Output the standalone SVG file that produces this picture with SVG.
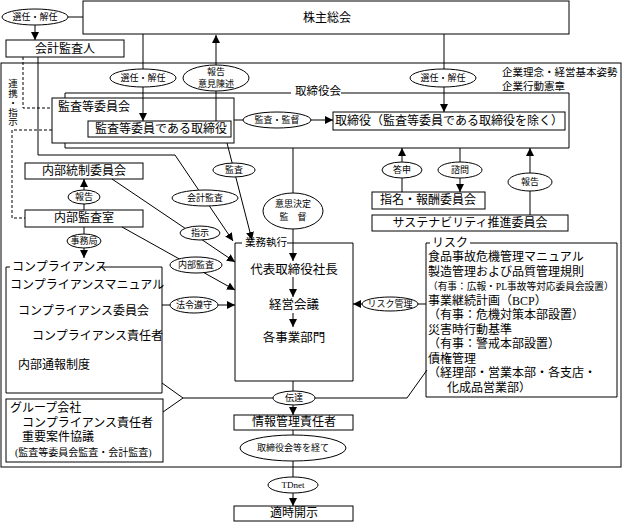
<svg xmlns="http://www.w3.org/2000/svg" width="623" height="522" viewBox="0 0 623 522">
<defs>
<style>
.b{fill:none;stroke:#000;stroke-width:1}
.ln{fill:none;stroke:#000;stroke-width:1}
.ar{marker-end:url(#ah)}
.ds{stroke-dasharray:3,2}
.el{fill:#fff;stroke:#000;stroke-width:1}
text{font-family:"Liberation Serif","Noto Sans CJK JP",serif;fill:#000;dominant-baseline:central}
.m{font-size:12px}
.s{font-size:9px}
.c{text-anchor:middle}
</style>
<marker id="ah" viewBox="0 0 8 8" refX="8" refY="4" markerWidth="8" markerHeight="8" markerUnits="userSpaceOnUse" orient="auto"><path d="M0,0L8,4L0,8z" fill="#000"/></marker>
</defs>
<rect width="623" height="522" fill="#fff"/>

<g id="frame">
<rect class="b" x="1" y="63" width="620" height="404"/>
<text x="502" y="72" style="font-size:10.5px">企業理念・経営基本姿勢</text>
<text x="502" y="86" style="font-size:10.5px">企業行動憲章</text>
</g>

<g id="board">
<path class="b" d="M65,98V93H291M341,93H569V148H65V143"/>
<text x="295" y="91" style="font-size:11.5px">取締役会</text>
</g>

<g id="connectors">
<path class="ln" d="M68,17H83"/>
<path class="ln ar" d="M35,25V40"/>
<path class="ln ar" d="M143,34V121"/>
<path class="ln ar" d="M216,121V35"/>
<path class="ln ar" d="M444,34V112"/>
<path class="ln ar" d="M234,120H333"/>
<path class="ln ar" d="M402,192V148"/>
<path class="ln ar" d="M460,148V192"/>
<path class="ln ar" d="M530,215V148"/>
<path class="ln ar" d="M84,210V179"/>
<path class="ln ar" d="M84,227V258"/>
<path class="ln ds" d="M23,57V108H52"/>
<path class="ln ds" d="M52,130H12V218H25"/>
<path class="ln ar" d="M38,57V155H175L233,241"/>
<path class="ln ar" d="M227,143L252,240"/>
<path class="ln ar" d="M112,179L235,262"/>
<path class="ln ar" d="M122,227L235,290"/>
<path class="ln ar" d="M162,305H235"/>
<path class="ln ar" d="M293,148V261"/>
<path class="ln ar" d="M293,277V297"/>
<path class="ln ar" d="M293,313V327"/>
<path class="ln ar" d="M426,304H353"/>
<path class="ln" d="M162,383L183,398L163,412M183,398H407L427,370"/>
<path class="ln ar" d="M293,381V415"/>
<path class="ln ar" d="M293,430V506"/>
</g>

<g id="n-shareholders">
<rect class="b" x="83" y="1" width="486" height="33"/>
<text class="m c" x="327" y="18">株主総会</text>
</g>
<g id="n-auditor">
<rect class="b" x="6" y="40" width="118" height="17"/>
<text class="m c" x="65" y="49">会計監査人</text>
</g>
<g id="n-audit-committee">
<rect class="b" x="52" y="98" width="182" height="45"/>
<text class="m" x="58" y="107">監査等委員会</text>
</g>
<g id="n-audit-director">
<rect class="b" x="88" y="121" width="143" height="16"/>
<text class="m c" x="161" y="129">監査等委員である取締役</text>
</g>
<g id="n-directors">
<rect class="b" x="333" y="112" width="232" height="18"/>
<text class="m c" x="449" y="121">取締役（監査等委員である取締役を除く）</text>
</g>
<g id="n-nomination">
<rect class="b" x="372" y="192" width="113" height="17"/>
<text class="m c" x="428" y="200">指名・報酬委員会</text>
</g>
<g id="n-sustainability">
<rect class="b" x="372" y="215" width="196" height="16"/>
<text class="m c" x="470" y="223">サステナビリティ推進委員会</text>
</g>
<g id="n-internal-control">
<rect class="b" x="25" y="163" width="118" height="16"/>
<text class="m c" x="84" y="171">内部統制委員会</text>
</g>
<g id="n-internal-audit">
<rect class="b" x="25" y="210" width="118" height="17"/>
<text class="m c" x="84" y="218">内部監査室</text>
</g>
<g id="n-compliance">
<path class="b" d="M10,267H6V393H162V267H99"/>
<text class="m" x="12" y="267">コンプライアンス</text>
<text class="m" x="10" y="285">コンプライアンスマニュアル</text>
<text class="m" x="18" y="311">コンプライアンス委員会</text>
<text class="m" x="32" y="336">コンプライアンス責任者</text>
<text class="m" x="18" y="365">内部通報制度</text>
</g>
<g id="n-group">
<rect class="b" x="6" y="399" width="157" height="63"/>
<text class="m" x="10" y="408">グループ会社</text>
<text class="m" x="22" y="423">コンプライアンス責任者</text>
<text class="m" x="22" y="437">重要案件協議</text>
<text x="15" y="452" style="font-size:10px">(監査等委員会監査・会計監査)</text>
</g>
<g id="n-execution">
<path class="b" d="M242,243H235V381H353V243H287"/>
<text x="245" y="242" style="font-size:10.5px">業務執行</text>
<text class="c" x="294" y="270" style="font-size:12.5px">代表取締役社長</text>
<text class="c" x="294" y="305" style="font-size:12.5px">経営会議</text>
<text class="c" x="294" y="338" style="font-size:12.5px">各事業部門</text>
</g>
<g id="n-risk">
<path class="b" d="M430,243H426V397H617V243H470"/>
<text class="m" x="432" y="243">リスク</text>
<text class="m" x="428" y="257">食品事故危機管理マニュアル</text>
<text class="m" x="428" y="271.5">製造管理および品質管理規則</text>
<text x="428" y="286" style="font-size:9.7px">（有事：広報・PL事故等対応委員会設置）</text>
<text class="m" x="428" y="300.5">事業継続計画（BCP）</text>
<text class="m" x="428" y="315">（有事：危機対策本部設置）</text>
<text class="m" x="428" y="329.5">災害時行動基準</text>
<text class="m" x="428" y="344">（有事：警戒本部設置）</text>
<text class="m" x="428" y="358.5">債権管理</text>
<text class="m" x="428" y="373">（経理部・営業本部・各支店・</text>
<text class="m" x="447" y="387.5">化成品営業部）</text>
</g>
<g id="n-info">
<rect class="b" x="234" y="415" width="119" height="15"/>
<text class="m c" x="294" y="422">情報管理責任者</text>
</g>
<g id="n-disclosure">
<rect class="b" x="234" y="506" width="119" height="15"/>
<text class="m c" x="294" y="513">適時開示</text>
</g>

<g id="labels">
<text class="s" x="12" y="79" style="writing-mode:vertical-rl;font-size:9.5px">連携・指示</text>
<ellipse class="el" cx="35" cy="17" rx="33" ry="8"/><text class="s c" x="35" y="17">選任・解任</text>
<ellipse class="el" cx="143" cy="78" rx="33" ry="9"/><text class="s c" x="143" y="78">選任・解任</text>
<ellipse class="el" cx="216" cy="78" rx="33" ry="13"/><text class="s c" x="216" y="72">報告</text><text class="s c" x="216" y="84">意見陳述</text>
<ellipse class="el" cx="443" cy="78" rx="33" ry="9"/><text class="s c" x="443" y="78">選任・解任</text>
<ellipse class="el" cx="277" cy="120" rx="34" ry="8"/><text class="s c" x="277" y="120">監査・監督</text>
<ellipse class="el" cx="402" cy="170" rx="20" ry="8"/><text class="s c" x="402" y="170">答申</text>
<ellipse class="el" cx="460" cy="170" rx="22" ry="8"/><text class="s c" x="460" y="170">諮問</text>
<ellipse class="el" cx="530" cy="182" rx="22" ry="9"/><text class="s c" x="530" y="182">報告</text>
<ellipse class="el" cx="84" cy="197" rx="16" ry="7"/><text class="s c" x="84" y="197">報告</text>
<ellipse class="el" cx="84" cy="241" rx="17" ry="7"/><text class="s c" x="84" y="241">事務局</text>
<ellipse class="el" cx="205" cy="198" rx="33" ry="8"/><text class="s c" x="205" y="198">会計監査</text>
<ellipse class="el" cx="234" cy="170" rx="21" ry="7"/><text class="s c" x="234" y="170">監査</text>
<ellipse class="el" cx="293" cy="211" rx="30" ry="18"/><text class="s c" x="293" y="204">意思決定</text><text class="s c" x="293" y="217">監　督</text>
<ellipse class="el" cx="200" cy="233" rx="20" ry="7"/><text class="s c" x="200" y="233">指示</text>
<ellipse class="el" cx="196" cy="265" rx="26" ry="8"/><text class="s c" x="196" y="265">内部監査</text>
<ellipse class="el" cx="194" cy="305" rx="24" ry="8"/><text class="s c" x="194" y="305">法令遵守</text>
<ellipse class="el" cx="390" cy="304" rx="28" ry="7"/><text class="s c" x="390" y="304">リスク管理</text>
<ellipse class="el" cx="294" cy="398" rx="21" ry="7"/><text class="s c" x="294" y="398">伝達</text>
<ellipse class="el" cx="293" cy="448" rx="53" ry="13"/><text class="s c" x="293" y="448">取締役会等を経て</text>
<ellipse class="el" cx="293" cy="485" rx="25" ry="8"/><text class="s c" x="293" y="485">TDnet</text>
</g>
</svg>
